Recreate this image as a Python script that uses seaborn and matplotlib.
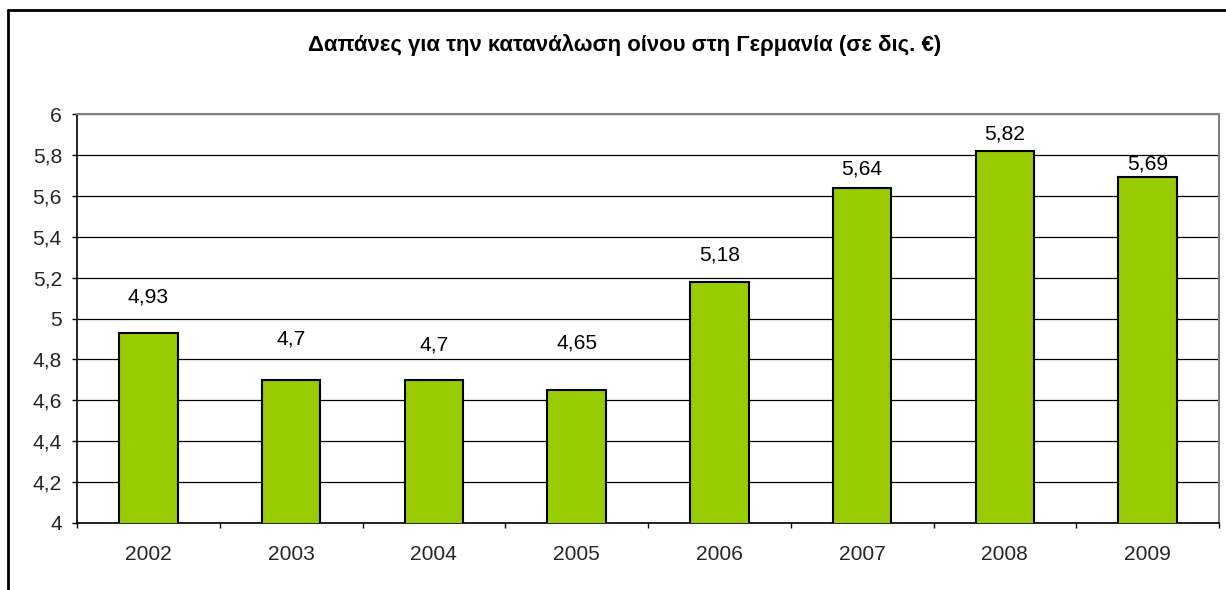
import matplotlib
matplotlib.use("Agg")
import matplotlib.pyplot as plt
import seaborn as sns
import pandas as pd
from matplotlib.lines import Line2D
from matplotlib.ticker import FixedLocator, FuncFormatter

years = ["2002", "2003", "2004", "2005", "2006", "2007", "2008", "2009"]
values = [4.93, 4.70, 4.70, 4.65, 5.18, 5.64, 5.82, 5.69]
value_labels = ["4,93", "4,7", "4,7", "4,65", "5,18", "5,64", "5,82", "5,69"]
title = "Δαπάνες για την κατανάλωση οίνου στη Γερμανία (σε δις. €)"

# label offsets above bar tops (pixels), styling only
label_offsets_px = [36, 41, 35, 47, 27, 19, 17, 13]

sns.set_theme(style="white")
plt.rcParams['font.family'] = ['Liberation Sans', 'DejaVu Sans']

DPI = 100
W, H = 1226, 590
fig = plt.figure(figsize=(W / DPI, H / DPI), dpi=DPI)
ax = fig.add_axes([77 / W, 1 - 523 / H, (1219 - 77) / W, (523 - 114) / H])

df = pd.DataFrame({"year": years, "value": values})
sns.barplot(data=df, x="year", y="value", ax=ax, color="#99CC00",
            saturation=1, edgecolor="black", linewidth=1.5, width=0.41, zorder=3)

ax.set_ylim(4, 6)
ax.set_xlim(-0.5, len(years) - 0.5)
yt = [4 + 0.2 * i for i in range(11)]
ax.set_yticks(yt)
ax.yaxis.set_major_formatter(FuncFormatter(lambda v, p: (f"{v:.1f}".rstrip("0").rstrip(".")).replace(".", ",")))
ax.yaxis.grid(True, color="black", linewidth=0.9, zorder=0)
ax.set_axisbelow(True)
ax.set_xlabel("")
ax.set_ylabel("")

pt = 72 / DPI
ax.tick_params(axis="y", which="major", direction="out", length=5 * pt, width=1,
               color="black", pad=10 * pt, labelsize=21 * pt, left=True)
ax.tick_params(axis="x", which="major", length=0, pad=22 * pt, labelsize=21 * pt)
ax.xaxis.set_minor_locator(FixedLocator([i + 0.5 for i in range(-1, len(years))]))
ax.tick_params(axis="x", which="minor", direction="out", length=5 * pt, width=1,
               color="black", bottom=True)

for s in ["left", "bottom"]:
    ax.spines[s].set_color("black")
    ax.spines[s].set_linewidth(1.2)
for s in ["top", "right"]:
    ax.spines[s].set_color("#808080")
    ax.spines[s].set_linewidth(1.5)

for i, (v, lab, off) in enumerate(zip(values, value_labels, label_offsets_px)):
    ax.annotate(lab, xy=(i, v), xytext=(0, off * pt), textcoords="offset points",
                ha="center", va="center", fontsize=21 * pt, color="black")

fig.text(625 / W, 1 - 45 / H, title, ha="center", va="center",
         fontsize=22.2 * pt, fontweight="bold", color="black")

# outer chart frame (top and left edges visible)
fig.add_artist(Line2D([8 / W, 1.0], [1 - 10 / H, 1 - 10 / H], transform=fig.transFigure,
                      color="black", linewidth=2))
fig.add_artist(Line2D([8 / W, 8 / W], [0, 1 - 10 / H], transform=fig.transFigure,
                      color="black", linewidth=2))

fig.savefig("out.png", dpi=DPI)
